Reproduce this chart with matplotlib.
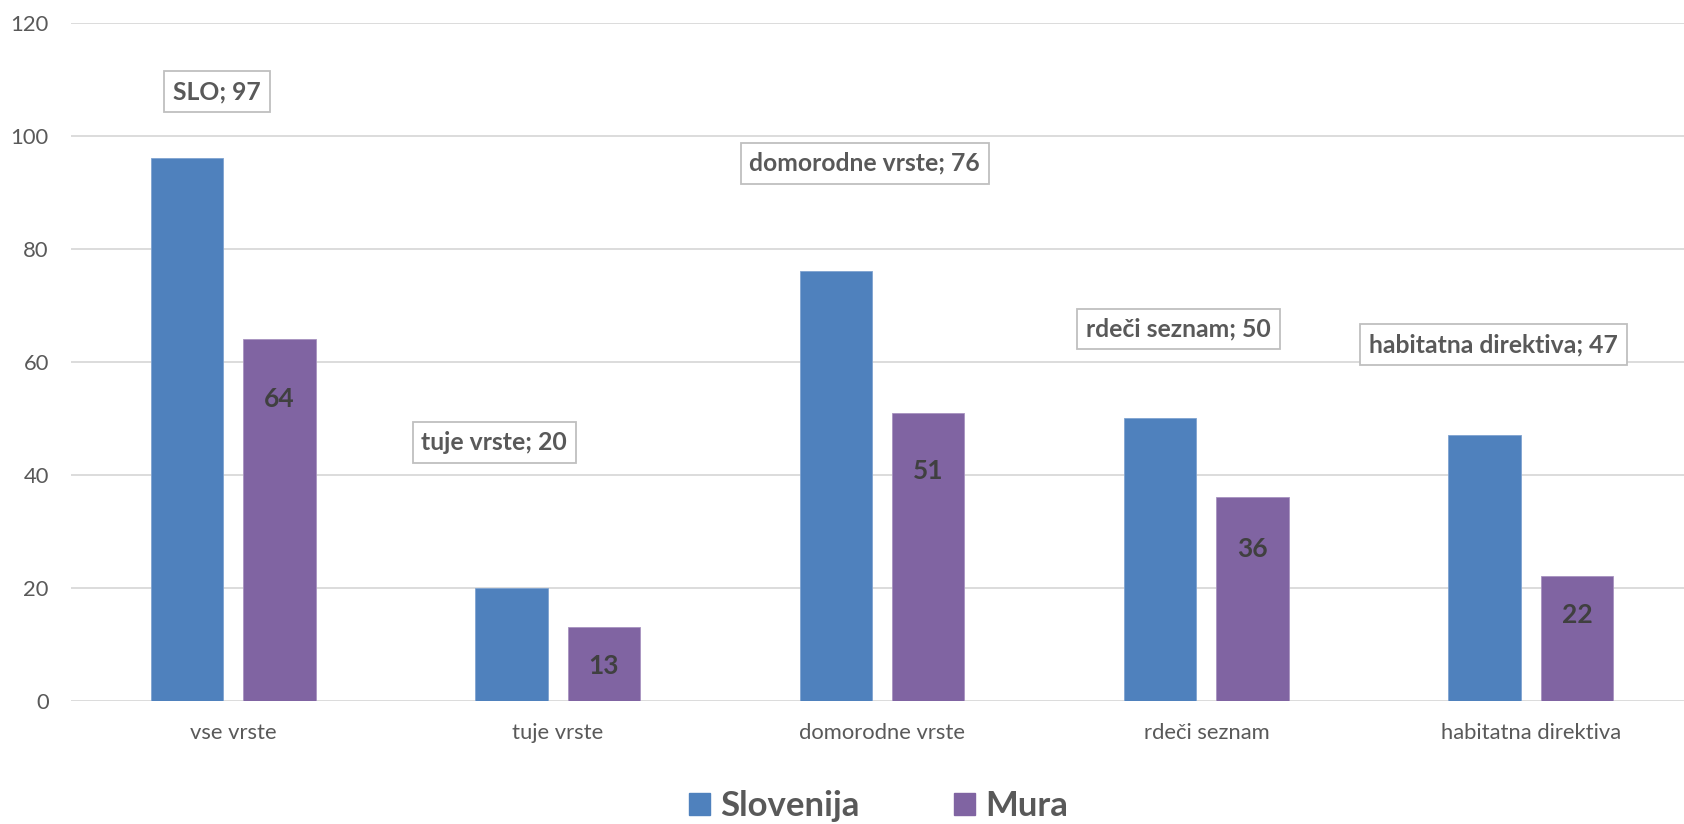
import matplotlib
matplotlib.use("Agg")
import matplotlib.pyplot as plt
from matplotlib.patches import Patch
import numpy as np

plt.rcParams['font.family'] = ['Lato', 'DejaVu Sans']

categories = ["vse vrste", "tuje vrste", "domorodne vrste", "rdeči seznam", "habitatna direktiva"]
slovenija = [96, 20, 76, 50, 47]
mura = [64, 13, 51, 36, 22]
slo_labels = ["SLO; 97", "tuje vrste; 20", "domorodne vrste; 76", "rdeči seznam; 50", "habitatna direktiva; 47"]
series_names = ["Slovenija", "Mura"]
yticks = [0, 20, 40, 60, 80, 100, 120]

# label placement (data coordinates)
slo_label_x = [-0.05, 0.805, 1.947, 2.914, 3.885]
slo_label_y = [107.8, 45.7, 95.1, 65.8, 63.0]
mura_label_y = [53.4, 6.2, 40.6, 26.8, 15.2]

BLUE = "#4F81BD"
PURPLE = "#8064A2"
TXT = "#595959"
GRID = "#D9D9D9"

fig = plt.figure(figsize=(16.84, 8.24), dpi=100)
ax = fig.add_axes([71/1684, 1-700.7/824, (1693-71)/1684, (700.7-22.7)/824])

x = np.arange(len(categories))
w = 0.2234
off = 0.1425
ax.bar(x - off, slovenija, w, color=BLUE, edgecolor="#7FA3D0", linewidth=0.6, zorder=3)
ax.bar(x + off, mura, w, color=PURPLE, edgecolor="#A893C0", linewidth=0.6, zorder=3)

ax.set_xlim(-0.5, len(categories) - 0.5)
ax.set_ylim(0, 120)
ax.set_yticks(yticks)
ax.set_xticks(x)
ax.set_xticklabels(categories)
ax.tick_params(axis='both', length=0, labelsize=15.8, colors=TXT)
ax.tick_params(axis='y', pad=16)
ax.tick_params(axis='x', pad=16)
ax.grid(axis='y', color=GRID, linewidth=1.3, zorder=0)
for s in ax.spines.values():
    s.set_visible(False)

for i in range(len(categories)):
    ax.text(slo_label_x[i], slo_label_y[i], slo_labels[i], ha='center', va='center',
            fontsize=17.8, fontweight='bold', color=TXT, zorder=5,
            bbox=dict(boxstyle='square,pad=0.36', facecolor='white', edgecolor='#BFBFBF', linewidth=1.3))
    ax.text(x[i] + off, mura_label_y[i], str(mura[i]), ha='center', va='center',
            fontsize=19, fontweight='bold', color="#404040", zorder=5)

handles = [Patch(facecolor=BLUE, edgecolor=BLUE), Patch(facecolor=PURPLE, edgecolor=PURPLE)]
leg = fig.legend(handles, series_names, loc='center', bbox_to_anchor=(878.5/1684, 1-806/824),
                 ncol=2, frameon=False, handlelength=0.62, handleheight=0.62, handletextpad=0.3,
                 columnspacing=2.7, prop={'size': 25, 'weight': 'bold'}, borderaxespad=0)
for t in leg.get_texts():
    t.set_color(TXT)

fig.savefig("out.png", dpi=100)
